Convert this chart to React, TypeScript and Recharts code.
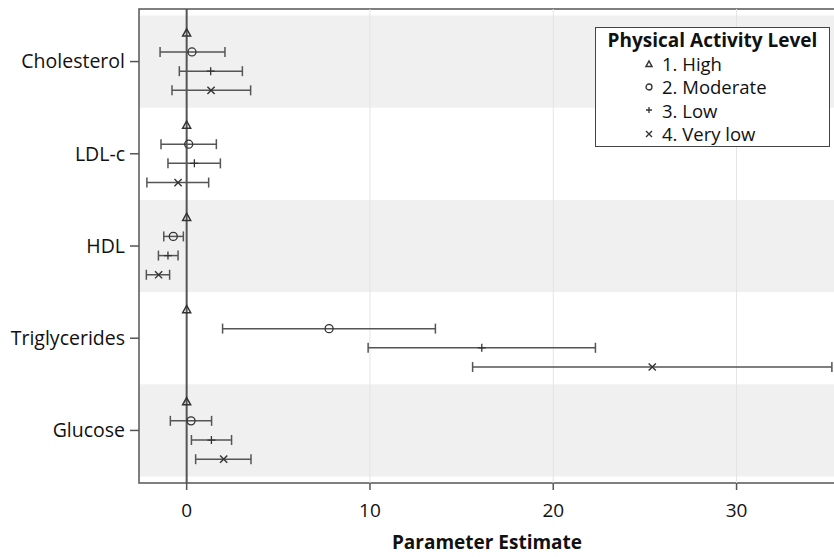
import React from 'react';
import {
  ScatterChart,
  Scatter,
  XAxis,
  YAxis,
  ErrorBar,
  ReferenceArea,
  ReferenceLine,
  Legend,
} from 'recharts';

const categories = ['Cholesterol', 'LDL-c', 'HDL', 'Triglycerides', 'Glucose'];
const levels = ['1. High', '2. Moderate', '3. Low', '4. Very low'];
const xTicks = [0, 10, 20, 30];
const gridTicks = [10, 20, 30];

const highEst = [0, 0, 0, 0, 0];

const moderateEst = [0.29, 0.11, -0.73, 7.77, 0.24];
const moderateLow = [-1.45, -1.4, -1.25, 1.96, -0.89];
const moderateHigh = [2.09, 1.62, -0.18, 13.57, 1.36];

const lowEst = [1.31, 0.42, -1.02, 16.1, 1.35];
const lowLow = [-0.4, -1.02, -1.54, 9.9, 0.26];
const lowHigh = [3.04, 1.84, -0.47, 22.3, 2.45];

const veryLowEst = [1.33, -0.47, -1.53, 25.4, 2.02];
const veryLowLow = [-0.8, -2.17, -2.2, 15.6, 0.49];
const veryLowHigh = [3.49, 1.2, -0.93, 35.2, 3.51];

// layout constants
const ROW_OFFSETS = [-0.312, -0.104, 0.104, 0.312];
const X_DOMAIN: [number, number] = [-2.6, 35.37];
const Y_DOMAIN: [number, number] = [-0.57, 4.57];
const FONT = '"Open Sans", "DejaVu Sans", sans-serif';
const INK = '#333333';
const BAR = '#555555';

const build = (levelIdx: number, est: number[], lo?: number[], hi?: number[]) =>
  est.map((v, i) => ({
    x: v,
    y: i + ROW_OFFSETS[levelIdx],
    err: lo && hi ? [v - lo[i], hi[i] - v] : [0, 0],
  }));

const highData = build(0, highEst);
const moderateData = build(1, moderateEst, moderateLow, moderateHigh);
const lowData = build(2, lowEst, lowLow, lowHigh);
const veryLowData = build(3, veryLowEst, veryLowLow, veryLowHigh);

const Tri = ({ cx, cy, s = 4 }: any) => (
  <path
    d={`M${cx},${cy - s} L${cx + s},${cy + s * 0.8} L${cx - s},${cy + s * 0.8} Z`}
    fill="none"
    stroke={INK}
    strokeWidth={1.5}
  />
);
const Circ = ({ cx, cy, s = 4 }: any) => (
  <circle cx={cx} cy={cy} r={s} fill="none" stroke={INK} strokeWidth={1.3} />
);
const Plus = ({ cx, cy, s = 4 }: any) => (
  <path d={`M${cx - s},${cy} L${cx + s},${cy} M${cx},${cy - s} L${cx},${cy + s}`} stroke={INK} strokeWidth={1.3} fill="none" />
);
const Cross = ({ cx, cy, s = 3.6 }: any) => (
  <path
    d={`M${cx - s},${cy - s} L${cx + s},${cy + s} M${cx - s},${cy + s} L${cx + s},${cy - s}`}
    stroke={INK}
    strokeWidth={1.4}
    fill="none"
  />
);

const shapes = [Tri, Circ, Plus, Cross];

const LegendBox = () => (
  <div
    style={{
      width: 233,
      border: '1.5px solid #444',
      background: '#fff',
      fontFamily: FONT,
      color: '#111',
      paddingTop: 1,
      paddingBottom: 1,
      boxSizing: 'content-box',
    }}
  >
    <div style={{ fontWeight: 'bold', fontSize: 19, lineHeight: '23px', height: 23, textAlign: 'center', whiteSpace: 'nowrap' }}>
      Physical Activity Level
    </div>
    {levels.map((l, i) => {
      const S = shapes[i];
      return (
        <div key={l} style={{ display: 'flex', alignItems: 'center', height: 23.3, paddingLeft: 46 }}>
          <svg width={14} height={14} style={{ marginRight: 6, flex: 'none' }}>
            <S cx={7} cy={7} s={3} />
          </svg>
          <span style={{ fontSize: 18.5, lineHeight: '21px' }}>{l}</span>
        </div>
      );
    })}
  </div>
);

export default function App() {
  return (
    <div style={{ position: 'absolute', left: 0, top: 0, background: '#fff' }}>
      <ScatterChart width={836} height={557} margin={{ top: 9, right: 1, bottom: 0, left: 0 }}>
        <XAxis
          type="number"
          dataKey="x"
          domain={X_DOMAIN}
          ticks={xTicks}
          allowDataOverflow
          height={74}
          tickSize={7}
          tickMargin={14}
          axisLine={false}
          tickLine={{ stroke: BAR, strokeWidth: 1.5 }}
          tick={{ fill: '#111', fontSize: 19, fontFamily: FONT }}
          label={{
            value: 'Parameter Estimate',
            position: 'insideBottom',
            offset: 8,
            style: { fill: '#111', fontSize: 19, fontWeight: 'bold', fontFamily: FONT },
          }}
        />
        <YAxis
          type="number"
          dataKey="y"
          domain={Y_DOMAIN}
          reversed
          allowDataOverflow
          ticks={[0, 1, 2, 3, 4]}
          interval={0}
          width={139}
          tickSize={9}
          tickMargin={5}
          axisLine={false}
          tickLine={{ stroke: BAR, strokeWidth: 1.5 }}
          tickFormatter={(v: number) => categories[v]}
          tick={{ fill: '#111', fontSize: 19.5, fontFamily: FONT }}
        />
        {[0, 2, 4].map((i) => (
          <ReferenceArea
            key={'band' + i}
            x1={X_DOMAIN[0]}
            x2={X_DOMAIN[1]}
            y1={i - 0.5}
            y2={i + 0.5}
            fill="#f0f0f0"
            fillOpacity={1}
            stroke="none"
          />
        ))}
        {gridTicks.map((t) => (
          <ReferenceLine key={'g' + t} x={t} stroke="#e4e4e4" strokeWidth={1} />
        ))}
        <ReferenceLine x={0} stroke="#555" strokeWidth={2} />
        <Scatter data={highData} isAnimationActive={false} shape={(p: any) => <Tri cx={p.cx} cy={p.cy} />} />
        <Scatter data={moderateData} isAnimationActive={false} shape={(p: any) => <Circ cx={p.cx} cy={p.cy} />}>
          <ErrorBar dataKey="err" direction="x" width={5} stroke={BAR} strokeWidth={1.5} isAnimationActive={false} />
        </Scatter>
        <Scatter data={lowData} isAnimationActive={false} shape={(p: any) => <Plus cx={p.cx} cy={p.cy} />}>
          <ErrorBar dataKey="err" direction="x" width={5} stroke={BAR} strokeWidth={1.5} isAnimationActive={false} />
        </Scatter>
        <Scatter data={veryLowData} isAnimationActive={false} shape={(p: any) => <Cross cx={p.cx} cy={p.cy} />}>
          <ErrorBar dataKey="err" direction="x" width={5} stroke={BAR} strokeWidth={1.5} isAnimationActive={false} />
        </Scatter>
        <ReferenceArea
          x1={X_DOMAIN[0]}
          x2={X_DOMAIN[1]}
          y1={Y_DOMAIN[0]}
          y2={Y_DOMAIN[1]}
          fill="none"
          stroke="#555"
          strokeWidth={1.5}
        />
        <Legend
          layout="vertical"
          align="center"
          verticalAlign="middle"
          content={() => <LegendBox />}
          wrapperStyle={{ position: 'absolute', left: 595, top: 27, width: 236 }}
        />
      </ScatterChart>
    </div>
  );
}
